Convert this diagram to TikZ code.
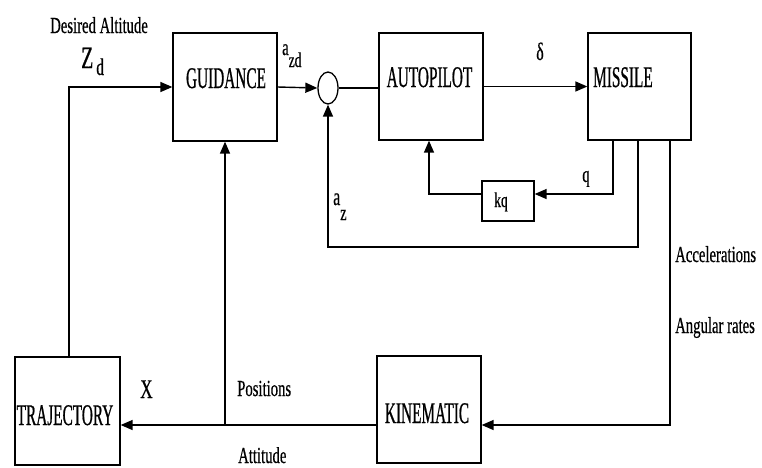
\documentclass[tikz,border=0pt]{standalone}
\usepackage{fontspec}
\setmainfont{Liberation Serif}
\newfontfamily\boxfnt[FakeStretch=0.51,FakeBold=0.6]{Liberation Serif}
\newfontfamily\lblfnt[FakeStretch=0.64,FakeBold=0.5]{Liberation Serif}
\usetikzlibrary{arrows.meta,shapes.geometric}
\begin{document}
\begin{tikzpicture}[x=1pt,y=-1pt,
  >={Triangle[length=12pt,width=10pt]},
  blk/.style={draw, line width=1.3pt, inner sep=0pt},
  boxtxt/.style={font=\boxfnt\fontsize{30}{30}\selectfont, inner sep=0pt},
  lbl/.style={font=\lblfnt\fontsize{23}{23}\selectfont, inner sep=0pt},
  conn/.style={draw, line width=1.4pt}]
\useasboundingbox (0,0) rectangle (762,467);
% blocks
\node[blk, minimum width=104pt, minimum height=108pt] (guid) at (225,87) {};
\node[boxtxt, anchor=base] (guidT) at (226,88) {GUIDANCE};
\node[blk, minimum width=104pt, minimum height=107pt] (auto) at (431,86.5) {};
\node[boxtxt, anchor=base] (autoT) at (429.5,87) {AUTOPILOT};
\node[blk, minimum width=103pt, minimum height=107pt] (miss) at (639.5,86.5) {};
\node[boxtxt, anchor=base west] (missT) at (593,87) {MISSILE};
\node[blk, minimum width=52pt, minimum height=40pt] (kq) at (508,201) {};
\node[lbl, font=\lblfnt\fontsize{21}{21}\selectfont, anchor=base] (kqT) at (501,207) {kq};
\node[blk, minimum width=105pt, minimum height=108pt] (traj) at (67.5,411) {};
\node[boxtxt, anchor=base] (trajT) at (65,425) {TRAJECTORY};
\node[blk, minimum width=104pt, minimum height=107pt] (kin) at (429,409.5) {};
\node[boxtxt, anchor=base] (kinT) at (427,423) {KINEMATIC};
\node[ellipse, draw, line width=1.3pt, minimum width=20pt, minimum height=32pt, inner sep=0pt] (sum) at (328,88) {};
% coordinates
\coordinate (azc) at (328,247);
\coordinate (pj) at (225,425);
% connectors
\draw[conn,->] ([xshift=1.5pt]traj.north) |- (guid.west);
\draw[conn,->] (guid.east) -- (sum.west);
\draw[conn] (sum.east) -- (sum.east -| auto.west);
\draw[conn,->] (auto.east) -- (miss.west);
\draw[conn,->] ([xshift=-26.5pt]miss.south) |- ([yshift=7pt]kq.east);
\draw[conn,->] ([yshift=7pt]kq.west) -| ([xshift=-2pt]auto.south);
\draw[conn,->] ([xshift=-1.5pt]miss.south) |- (azc) -- (sum.south);
\draw[conn,->] ([xshift=30.5pt]miss.south) |- ([yshift=-15.5pt]kin.east);
\draw[conn,->] ([yshift=-15.5pt]kin.west) -- ([yshift=-15.5pt]kin.west -| traj.east);
\draw[conn,->] (pj) -- (guid.south);
% labels
\node[lbl, anchor=base west] (desT) at (50,33) {Desired Altitude};
\node[lbl, font=\lblfnt\fontsize{31}{31}\selectfont, anchor=base west] (zdT) at (81,68) {Z\hspace{3pt}\raisebox{-7pt}{\fontsize{24}{24}\selectfont d}};
\node[lbl, anchor=base west] (azdT) at (282,55) {a\raisebox{-12pt}{\fontsize{21}{21}\selectfont zd}};
\node[lbl, font=\lblfnt\fontsize{25}{25}\selectfont, anchor=base] (delT) at (540,60) {δ};
\node[lbl, anchor=base] (qT) at (586,182) {q};
\node[lbl, font=\lblfnt\fontsize{25}{25}\selectfont, anchor=base west] (azT) at (333,205) {a\raisebox{-15pt}{\fontsize{22}{22}\selectfont z}};
\node[lbl, font=\lblfnt\fontsize{27}{27}\selectfont, anchor=base west] (xT) at (140,398) {X};
\node[lbl, anchor=base west] (accT) at (675,262) {Accelerations};
\node[lbl, anchor=base west] (angT) at (675,333) {Angular rates};
\node[lbl, anchor=base west] (posT) at (237,396) {Positions};
\node[lbl, anchor=base west] (attT) at (238,463) {Attitude};
\end{tikzpicture}
\end{document}
